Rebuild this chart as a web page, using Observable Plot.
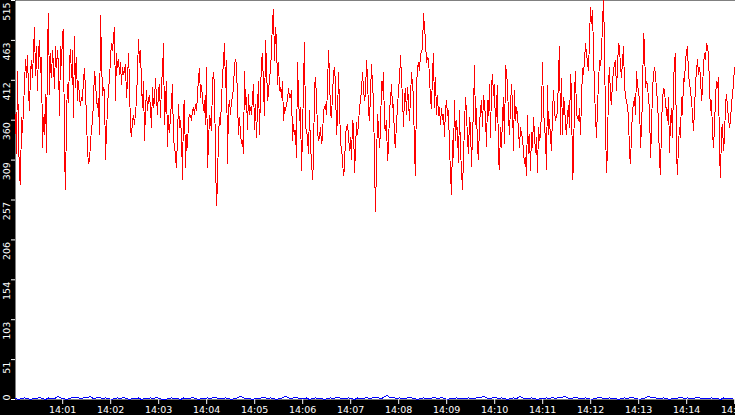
<!DOCTYPE html>
<html><head><meta charset="utf-8">
<script src="https://cdn.jsdelivr.net/npm/d3@7"></script>
<script src="https://cdn.jsdelivr.net/npm/@observablehq/plot@0.6"></script>
<style>html,body{margin:0;padding:0;background:#000;overflow:hidden}#chart svg{display:block}</style>
</head><body><div id="chart"></div>
<script>
const startTime = Date.UTC(2024, 0, 1, 14, 0, 1);
const endTime = Date.UTC(2024, 0, 1, 14, 15, 1);
const redStepMs = 1250;
const blueStepMs = 3750;

const red1 = [368,317,424,342,286,278,364,345,377,407,
439,416,444,399,373,424,437,416,450,480,
418,455,399,450,463,422,442,325,364,342,
394,319,459,498,394,446,416,450,433,401,
455,429,450,433,366,455,431,472,478,317,
271,366,407,383,437,452,416,450,364,468,
403,442,386,411,390,379,390,386,414,427,
399,362,321,304,310,330,351,358,386,424,
411,386,377,388,342,496,442,392,403,399,
310,347,375,403,411,442,459,450,468,480,
386,446,429,439,420,435,407,429,420,424,
433,390,411,446,409,347,340,360,366,355];
const red2 = [370,386,424,465,435,450,407,377,411,334,
373,399,373,388,392,377,351,403,377,386,
414,390,368,399,407,364,409,422,459,355,
386,411,327,366,345,366,383,407,332,330,
312,299,342,381,351,360,342,284,377,386,
299,342,325,360,368,366,360,373,377,368,
381,373,392,416,427,390,405,390,373,386,
355,429,299,330,366,360,347,411,422,405,
312,250,280,342,364,355,386,416,437,459,
403,437,304,377,386,368,386,390,403,431,
439,433,386,342,364,342,330,334,317,424,
381,390,349,394,368,377,368,390,407,349];
const red3 = [381,338,377,411,342,394,437,446,403,366,
463,433,386,394,416,424,452,489,504,437,
480,463,407,435,399,403,390,411,360,377,
373,381,386,401,390,390,399,334,355,342,
347,312,435,390,360,377,295,342,407,461,
351,347,338,317,373,325,308,284,308,403,
416,390,347,334,338,351,330,338,373,377,
381,368,403,450,420,368,364,394,420,429,
407,342,364,422,381,330,325,308,289,299,
342,351,355,342,321,338,310,360,355,293,
321,358,342,355,377,386,399,422,401,386,
394,437,416,373,360,394,433,405,386,304];
const red4 = [243,304,368,351,325,347,411,399,422,351,
347,360,308,325,373,386,407,377,381,334,
325,360,373,403,411,444,414,390,353,390,
401,368,403,386,360,390,422,407,390,319,
289,403,429,435,424,446,448,455,498,480,
463,435,442,439,416,388,375,422,446,377,
416,368,392,366,377,355,375,362,368,340,
375,386,366,373,325,293,265,334,312,386,
334,360,345,306,373,321,297,271,312,355,
390,370,336,317,364,353,301,342,373,431,
355,375,325,310,355,373,386,353,392,381,
364,327,386,366,407,338,403,420,392,407];
const red5 = [347,381,405,310,297,351,325,364,390,330,
431,422,407,364,342,379,407,381,321,399,
360,377,368,347,325,351,342,338,319,304,
312,289,366,317,342,295,345,325,364,342,
319,338,293,351,334,342,373,435,377,351,
338,297,405,342,362,338,321,370,399,373,
360,366,370,420,455,342,414,342,390,381,
355,342,368,379,351,420,399,284,301,394,
424,368,364,360,375,342,386,427,420,437,
459,446,435,424,465,506,485,502,450,399,
366,338,377,409,437,431,446,487,515,461,
351,293,321,409,429,390,381,411,424,435];
const red6 = [437,399,429,459,455,429,416,437,455,407,
390,386,377,366,317,304,342,373,381,390,
368,424,405,399,386,325,351,390,472,459,
403,411,407,386,377,312,347,401,418,429,
420,399,386,355,308,291,355,386,401,399,
381,373,360,390,319,360,375,338,407,437,
446,317,291,330,351,338,390,368,414,411,
437,450,455,420,407,399,386,368,347,373,
407,424,439,420,429,416,386,399,433,446,
439,459,455,446,403,373,386,345,325,351,
390,411,403,416,317,286,347,355,321,338,
381,394,377,364,351,360,381,394,407,429];

const blue = [1,0,1,2,1,0,1,1,3,1,
0,2,1,1,4,2,1,0,1,3,
2,2,1,3,2,4,1,2,3,1,
2,1,0,1,2,1,3,1,0,1,
1,2,0,1,1,2,1,3,1,0,
0,1,2,1,1,0,2,1,1,3,
1,0,1,1,2,1,3,2,1,1,
2,1,0,1,2,4,2,1,1,0,
1,1,2,3,1,2,1,0,1,2,
4,2,1,3,2,1,1,2,0,1,
2,1,1,0,1,2,1,3,2,1,
1,2,1,0,2,1,1,3,1,2,
3,2,1,4,5,2,3,1,2,1,
1,3,2,1,0,1,2,1,1,2,
2,1,3,1,0,1,1,2,1,1,
1,2,1,1,3,2,4,2,1,2,
3,1,2,1,0,1,2,1,4,2,
1,1,2,1,0,1,1,2,1,3,
1,3,2,4,2,1,2,3,1,1,
2,1,0,1,2,3,1,1,2,1,
1,0,1,2,1,3,2,1,0,1,
2,4,2,3,1,1,2,1,0,1,
1,2,3,1,2,1,1,3,2,1,
1,1,2,1,1,0,2,1,1,1];

const yTickValues = [0, 51.5, 103, 154.5, 206, 257.5, 309, 360.5, 412, 463.5, 515];
const xTickLabels = ["14:01","14:02","14:03","14:04","14:05","14:06","14:07","14:08","14:09","14:10","14:11","14:12","14:13","14:14","14:15"];

const red = [...red1, ...red2, ...red3, ...red4, ...red5, ...red6];
const redData = red.map((v, i) => ({t: new Date(startTime + i * redStepMs), v}));
const blueData = blue.map((v, i) => ({t: new Date(startTime + i * blueStepMs), v}));
const xTicks = xTickLabels.map(s => {
  const [h, m] = s.split(":").map(Number);
  return new Date(Date.UTC(2024, 0, 1, h, m, 0));
});
const fmt = d3.utcFormat("%H:%M");

const chart = Plot.plot({
  width: 735,
  height: 415,
  marginTop: 0,
  marginRight: 0,
  marginBottom: 16,
  marginLeft: 15,
  style: {background: "#000", color: "#fff", fontFamily: "DejaVu Sans", fontSize: "9px"},
  x: {type: "utc", domain: [new Date(startTime), new Date(endTime)]},
  y: {domain: [0, 515]},
  marks: [
    Plot.frame({fill: "#fff", stroke: null}),
    Plot.line(blueData, {x: "t", y: "v", stroke: "#0000ff", strokeWidth: 1, shapeRendering: "crispEdges"}),
    Plot.line(redData, {x: "t", y: "v", stroke: "#ff0000", strokeWidth: 1, shapeRendering: "crispEdges"}),
    Plot.axisX({ticks: xTicks, tickFormat: fmt, tickSize: 5, tickPadding: 2, stroke: "#fff", fill: "#fff", label: null, fontSize: 9.5}),
    Plot.axisY({ticks: yTickValues, tickSize: 4, tickFormat: () => "", label: null, stroke: "#fff"}),
    Plot.text(yTickValues.filter(d => d > 0), {y: d => d, text: d => String(Math.floor(d)), frameAnchor: "left", dx: -8.5, dy: 2, rotate: -90, textAnchor: "end", lineAnchor: "middle", fill: "#fff", fontSize: 9.5}),
    Plot.text(yTickValues.filter(d => d === 0), {y: d => d, text: d => String(Math.floor(d)), frameAnchor: "left", dx: -8.5, dy: -2, rotate: -90, textAnchor: "middle", lineAnchor: "middle", fill: "#fff", fontSize: 9.5})
  ]
});
document.getElementById("chart").appendChild(chart);
</script>
</body></html>
